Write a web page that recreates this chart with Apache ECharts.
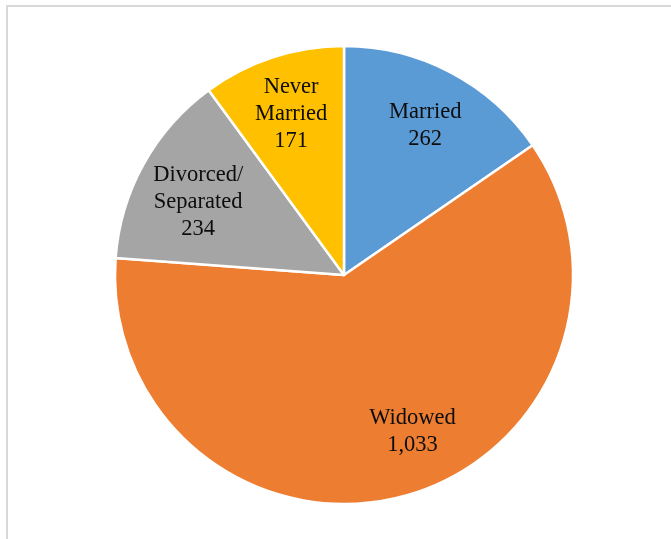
<!DOCTYPE html>
<html>
<head>
<meta charset="utf-8">
<script src="https://cdn.jsdelivr.net/npm/echarts@6/dist/echarts.min.js"></script>
<style>
  html, body { margin: 0; padding: 0; background: #fff; }
  #chart { width: 671px; height: 539px; }
</style>
</head>
<body>
<div id="chart"></div>
<script>
// Marital status counts
const categories = ['Married', 'Widowed', 'Divorced/\nSeparated', 'Never\nMarried'];
const counts = [262, 1033, 234, 171];
const colors = ['#5B9BD5', '#ED7D31', '#A5A5A5', '#FFC000'];
// Small nudges so each label sits comfortably inside its slice
const labelOffsets = [[2, 1], [24, -8], [3, 10], [0, 1]];

const chart = echarts.init(document.getElementById('chart'), null, { renderer: 'canvas' });

const center = [344, 275];
const radius = 229;

const sliceData = categories.map((name, i) => ({
  name: name,
  value: counts[i],
  itemStyle: { color: colors[i] }
}));

const labelData = categories.map((name, i) => ({
  name: name,
  value: counts[i],
  label: { offset: labelOffsets[i] }
}));

chart.setOption({
  animation: false,
  backgroundColor: '#ffffff',
  graphic: [{
    type: 'rect',
    shape: { x: 7, y: 6, width: 720, height: 600 },
    style: { fill: 'none', stroke: '#d9d9d9', lineWidth: 2 },
    silent: true,
    z: 0
  }],
  series: [
    {
      type: 'pie',
      center: center,
      radius: radius,
      startAngle: 90,
      clockwise: true,
      data: sliceData,
      label: { show: false },
      labelLine: { show: false },
      itemStyle: { borderColor: '#ffffff', borderWidth: 2.5 },
      silent: true
    },
    {
      // transparent ring used only to place the labels
      type: 'pie',
      center: center,
      radius: [radius * 0.46, radius],
      startAngle: 90,
      clockwise: true,
      data: labelData,
      itemStyle: { color: 'rgba(0,0,0,0)' },
      labelLine: { show: false },
      label: {
        show: true,
        position: 'inside',
        formatter: p => p.name + '\n' + p.value.toLocaleString('en-US'),
        fontFamily: '"Liberation Serif", "Times New Roman", serif',
        fontSize: 22.5,
        lineHeight: 27,
        color: '#0d0d0d',
        align: 'center'
      },
      silent: true
    }
  ]
});
</script>
</body>
</html>
